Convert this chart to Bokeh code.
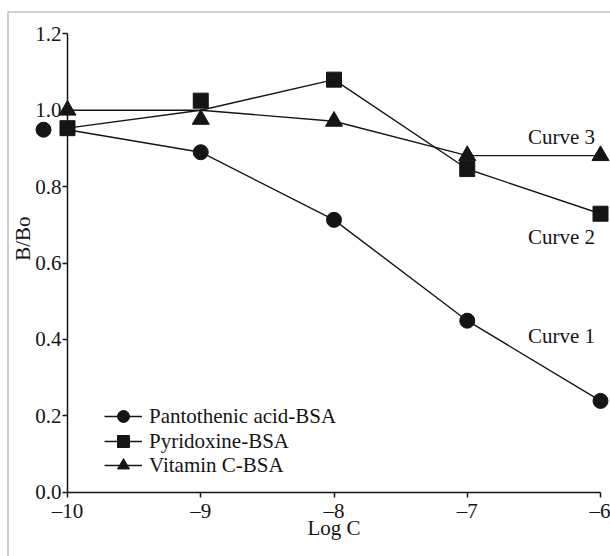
import math
from bokeh.plotting import figure
from bokeh.models import (Range1d, LinearAxis, FixedTicker, Legend, LegendItem,
                          Label, BoxAnnotation)
from bokeh.embed import file_html
from bokeh.resources import INLINE

# ---- data ----
log_c = [-10, -9, -8, -7, -6]
panto_pts_x = [-10.18, -9, -8, -7, -6]          # first circle drawn left of the axis
panto = [0.949, 0.890, 0.713, 0.449, 0.239]
pyri_line = [0.953, 1.0, 1.080, 0.846, 0.729]
pyri_pts = [0.953, 1.025, 1.080, 0.846, 0.729]
vitc_line = [1.0, 1.0, 0.971, 0.881, 0.881]
vitc_pts = [1.0, 0.976, 0.971, 0.881, 0.881]
series_names = ["Pantothenic acid-BSA", "Pyridoxine-BSA", "Vitamin C-BSA"]
curve_names = ["Curve 1", "Curve 2", "Curve 3"]
x_ticks = [-10, -9, -8, -7, -6]
x_tick_labels = ["\u201310", "\u20139", "\u20138", "\u20137", "\u20136"]
y_ticks = [0, 0.2, 0.4, 0.6, 0.8, 1, 1.2]
y_tick_labels = ["0.0", "0.2", "0.4", "0.6", "0.8", "1.0", "1.2"]

FONT = "Liberation Serif"
FS = "21px"
INK = "#151515"
TXT = "#151515"

X0, X1 = -10.5028, -5.9250
Y0, Y1 = -0.1683, 1.2872

p = figure(width=610, height=556, x_range=Range1d(X0, X1), y_range=Range1d(Y0, Y1),
           x_axis_location=None, y_axis_location=None, toolbar_location=None,
           output_backend="svg", min_border=0, outline_line_color=None)
p.xgrid.visible = False
p.ygrid.visible = False

def style_axis(ax):
    ax.axis_line_color = INK
    ax.axis_line_width = 1.5
    ax.major_tick_line_color = INK
    ax.major_tick_line_width = 1.5
    ax.major_tick_in = 0
    ax.major_tick_out = 5
    ax.minor_tick_in = 0
    ax.minor_tick_out = 0
    ax.major_label_text_font = FONT
    ax.major_label_text_font_size = FS
    ax.major_label_text_color = TXT

xaxis = LinearAxis(fixed_location=0, bounds=(-10, -6),
                   ticker=FixedTicker(ticks=x_ticks),
                   major_label_overrides=dict(zip(x_ticks, x_tick_labels)))
style_axis(xaxis)
xaxis.major_label_standoff = 2
p.add_layout(xaxis, "below")

yaxis = LinearAxis(fixed_location=-10, bounds=(0, 1.2),
                   ticker=FixedTicker(ticks=y_ticks),
                   major_label_overrides=dict(zip(y_ticks, y_tick_labels)))
style_axis(yaxis)
yaxis.major_label_standoff = 1
p.add_layout(yaxis, "left")

# outer border (top and left visible)
p.add_layout(BoxAnnotation(left=-10.4465, right=-4.0, top=1.2571, bottom=-1.0,
                           fill_alpha=0, line_color="#333333", line_width=1.6))

l1 = p.line(log_c, panto, line_color=INK, line_width=1.4)
m1 = p.scatter(panto_pts_x, panto, marker="circle", size=15, color=INK)
l2 = p.line(log_c, pyri_line, line_color=INK, line_width=1.4)
m2 = p.scatter(log_c, pyri_pts, marker="square", size=15, color=INK)
l3 = p.line(log_c, vitc_line, line_color=INK, line_width=1.4)
m3 = p.scatter(log_c, vitc_pts, marker="triangle", size=17, color=INK)

# one legend box per row so the rows can sit closer than the marker box height
for name, rends, ypos in zip(series_names, [[l1, m1], [l2, m2], [l3, m3]], [125, 100, 76]):
    p.add_layout(Legend(items=[LegendItem(label=name, renderers=rends)],
                        location=(104, ypos), padding=0, margin=0, spacing=0,
                        glyph_width=38, glyph_height=30, label_height=22,
                        label_standoff=7, background_fill_alpha=0, border_line_alpha=0,
                        label_text_font=FONT, label_text_font_size=FS,
                        label_text_color=TXT))

for name, yy in zip(curve_names, [0.41, 0.669, 0.931]):
    p.add_layout(Label(x=-6.545, y=yy, text=name, text_baseline="middle",
                       text_align="left", text_font=FONT, text_font_size=FS,
                       text_color=TXT))

p.add_layout(Label(x=-8, y=-0.095, text="Log C", text_baseline="middle",
                   text_align="center", text_font=FONT, text_font_size=FS,
                   text_color=TXT))
p.add_layout(Label(x=-10.334, y=0.664, text="B/Bo", angle=math.pi / 2,
                   text_baseline="middle", text_align="center", text_font=FONT,
                   text_font_size=FS, text_color=TXT))

open("out.html", "w").write(file_html(p, INLINE))
